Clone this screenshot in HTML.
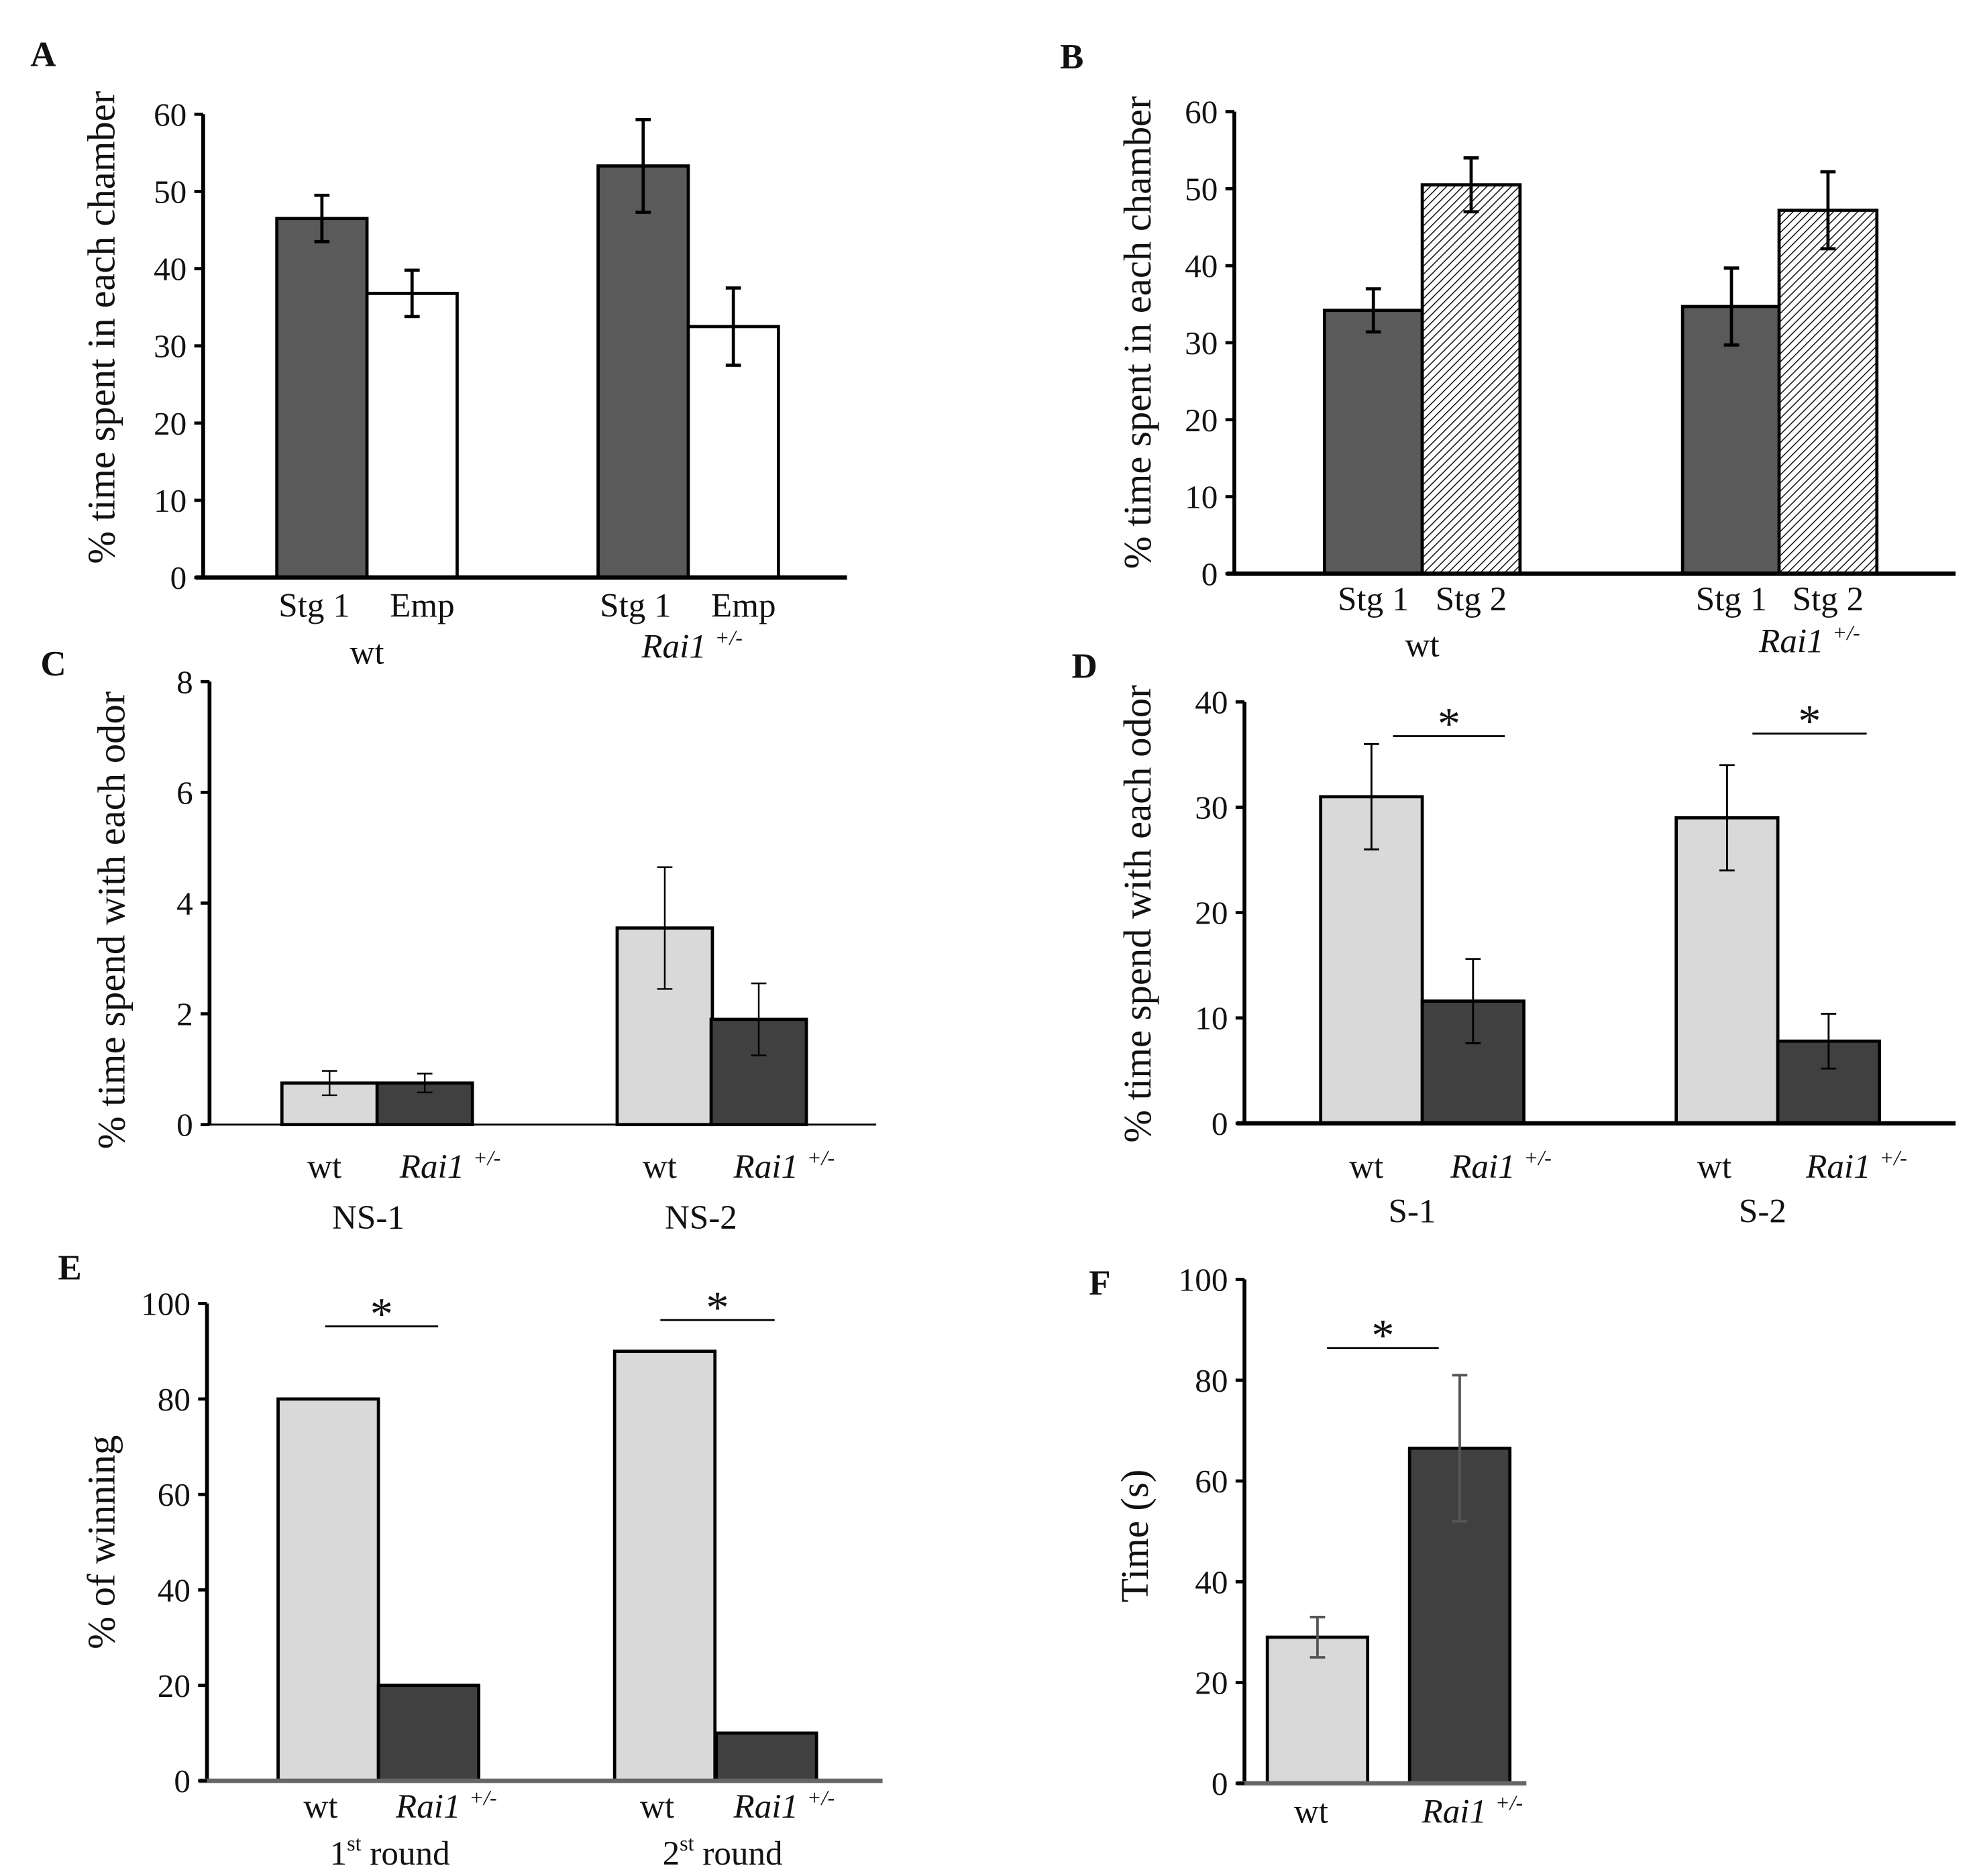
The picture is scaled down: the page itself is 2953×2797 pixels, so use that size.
<!DOCTYPE html>
<html><head><meta charset="utf-8">
<style>
html,body{margin:0;padding:0;background:#fff;}
svg{display:block;}
text{font-family:"Liberation Serif",serif;fill:#111;}
</style></head>
<body>
<svg id="fig" width="2953" height="2797" viewBox="0 0 1560 1478" preserveAspectRatio="none" xmlns="http://www.w3.org/2000/svg">
<defs>
<pattern id="hatch" patternUnits="userSpaceOnUse" width="4.5" height="4.5" patternTransform="rotate(45)">
<rect width="4.5" height="4.5" fill="#fff"/><line x1="0" y1="0" x2="0" y2="4.5" stroke="#111" stroke-width="1.6"/>
</pattern>
</defs>
</svg>
<script>
// Panel A
const aCats = ["Stg 1","Emp","Stg 1","Emp"];
const aValues = [46.5, 36.8, 53.3, 32.5];
const aErrors = [3, 3, 6, 5];
const aTicks = [0,10,20,30,40,50,60];
// Panel B
const bCats = ["Stg 1","Stg 2","Stg 1","Stg 2"];
const bValues = [34.2, 50.5, 34.7, 47.2];
const bErrors = [2.8, 3.5, 5, 5];
const bTicks = [0,10,20,30,40,50,60];
// Panel C
const cCats = ["wt","Rai1","wt","Rai1"];
const cValues = [0.75, 0.75, 3.55, 1.9];
const cErrors = [0.22, 0.17, 1.1, 0.65];
const cTicks = [0,2,4,6,8];
// Panel D
const dCats = ["wt","Rai1","wt","Rai1"];
const dValues = [31, 11.6, 29, 7.8];
const dErrors = [5, 4, 5, 2.6];
const dTicks = [0,10,20,30,40];
// Panel E
const eCats = ["wt","Rai1","wt","Rai1"];
const eValues = [80, 20, 90, 10];
const eTicks = [0,20,40,60,80,100];
// Panel F
const fCats = ["wt","Rai1"];
const fValues = [29, 66.5];
const fErrors = [4, 14.5];
const fTicks = [0,20,40,60,80,100];

const svg = document.getElementById('fig');
const NS = "http://www.w3.org/2000/svg";
function mk(tag, attrs, parent){
  const e = document.createElementNS(NS, tag);
  for (const k in attrs) e.setAttribute(k, attrs[k]);
  (parent||svg).appendChild(e);
  return e;
}
function txt(s, x, y, size, parent, anchor, italic, bold){
  const t = mk('text', {x:x, y:y, 'font-size':size, 'text-anchor':anchor||'middle'}, parent);
  if (italic) t.setAttribute('font-style','italic');
  if (bold) t.setAttribute('font-weight','bold');
  t.textContent = s;
  return t;
}
function catLabel(s, x, y, g){
  if (s === 'Rai1'){
    const t = txt('', x, y, 27, g, 'middle', true);
    const a = document.createElementNS(NS,'tspan'); a.textContent='Rai1 '; t.appendChild(a);
    const b = document.createElementNS(NS,'tspan'); b.textContent='+/-'; b.setAttribute('font-size','17'); b.setAttribute('dy','-10'); t.appendChild(b);
    return t;
  }
  return txt(s, x, y, 27, g);
}
function panel(o){
  const g = mk('g', {});
  
  
  const yMax = o.ticks[o.ticks.length-1];
  const ys = v => o.y0 - (v / yMax) * (o.y0 - o.yTop);
  o.values.forEach((v,i)=>{
    const x = o.barX[i];
    const r = mk('rect', {x:x, y:ys(v), width:o.barW, height:o.y0-ys(v), fill:o.fills[i], stroke:'#000', 'stroke-width':2.5}, g);
    
    
    if (o.errors){
      const cx = x + o.barW/2, e = o.errors[i];
      const eb = mk('path', {d:`M${cx},${ys(v+e)}V${ys(v-e)}M${cx-6},${ys(v+e)}H${cx+6}M${cx-6},${ys(v-e)}H${cx+6}`, stroke:o.errColor||'#000', 'stroke-width':o.errW||2.5, fill:'none'}, g);
      
      
    }
  });
  const ya = mk('line', {x1:o.x0, y1:o.yTop, x2:o.x0, y2:o.y0, stroke:'#000', 'stroke-width':3}, g);
  
  
  const xa = mk('line', {x1:o.x0-6, y1:o.y0, x2:o.xEnd, y2:o.y0, stroke:o.xColor||'#000', 'stroke-width':o.xW||3.5}, g);
  
  
  o.ticks.forEach(t=>{
    mk('line', {x1:o.x0-7, y1:ys(t), x2:o.x0, y2:ys(t), stroke:'#000', 'stroke-width':2.5}, g);
    const tl = txt(String(t), o.x0-13, ys(t)+9, 26, g, 'end');
    
    
  });
  o.cats.forEach((c,i)=>{
    const cl = catLabel(c, o.barX[i] + o.barW/2 + (o.catShift?o.catShift[i]:0), o.catY, g);
    
    
  });
  (o.groups||[]).forEach(gr=>{
    const gl = gr.rai ? catLabel('Rai1', gr.x, gr.y, g) : txt(gr.s, gr.x, gr.y, 27, g);
    if (gr.sup){ gl.textContent=''; const a=document.createElementNS(NS,'tspan');a.textContent=gr.s[0];gl.appendChild(a);
      const b=document.createElementNS(NS,'tspan');b.textContent='st';b.setAttribute('font-size','17');b.setAttribute('dy','-11');gl.appendChild(b);
      const c=document.createElementNS(NS,'tspan');c.textContent=' round';c.setAttribute('dy','11');gl.appendChild(c);}
    
    
  });
  (o.sig||[]).forEach(s=>{
    const sl = mk('line', {x1:s.x1, y1:s.y, x2:s.x2, y2:s.y, stroke:'#000', 'stroke-width':1.5}, g);
    
    
    const st = txt('*', (s.x1+s.x2)/2, s.y+2, 36, g);
    
    
  });
  const yt = txt(o.ytitle, 0, 0, 31, g);
  yt.setAttribute('transform', `translate(${o.ytX},${o.ytY}) rotate(-90)`);
  
  
  const lt = txt(o.id.toUpperCase(), o.letX, o.letY, 28, g, 'middle', false, true);
  
  
}
const DK='#5a5a5a', LG='#d9d9d9', DG='#404040';
panel({id:'a', name:'panel-a-chart', cats:aCats, values:aValues, errors:aErrors, ticks:aTicks,
  x0:160, y0:455, yTop:90, xEnd:667, barX:[218,289,471,542], barW:71, fills:[DK,'#fff',DK,'#fff'],
  catY:486, catShift:[-6,8,-6,8], groups:[{s:'wt',x:289,y:523},{rai:true,x:545,y:518}],
  ytitle:'% time spent in each chamber', ytX:90, ytY:258, letX:34, letY:52});
panel({id:'b', name:'panel-b-chart', cats:bCats, values:bValues, errors:bErrors, ticks:bTicks,
  x0:972, y0:452, yTop:88, xEnd:1540, barX:[1043,1120,1325,1401], barW:77, fills:[DK,'url(#hatch)',DK,'url(#hatch)'],
  catY:481, groups:[{s:'wt',x:1120,y:517},{rai:true,x:1425,y:514}],
  ytitle:'% time spent in each chamber', ytX:906, ytY:262, letX:844, letY:54});
panel({id:'c', name:'panel-c-chart', cats:cCats, values:cValues, errors:cErrors, ticks:cTicks,
  x0:165, y0:886, yTop:537, xEnd:690, xW:1.5, errW:1.3, barX:[222,297,486,560], barW:75, fills:[LG,DG,LG,DG],
  catY:928, catShift:[-4,20,-4,20], groups:[{s:'NS-1',x:290,y:968},{s:'NS-2',x:552,y:968}],
  ytitle:'% time spend with each odor', ytX:98, ytY:725, letX:42, letY:532});
panel({id:'d', name:'panel-d-chart', cats:dCats, values:dValues, errors:dErrors, ticks:dTicks,
  x0:980, y0:885, yTop:553, xEnd:1540, errW:1.5, barX:[1040,1120,1320,1400], barW:80, fills:[LG,DG,LG,DG],
  catY:928, catShift:[-4,22,-10,22], groups:[{s:'S-1',x:1112,y:963},{s:'S-2',x:1388,y:963}],
  sig:[{x1:1097,x2:1185,y:580},{x1:1380,x2:1470,y:578}],
  ytitle:'% time spend with each odor', ytX:906, ytY:720, letX:854, letY:534});
panel({id:'e', name:'panel-e-chart', cats:eCats, values:eValues, ticks:eTicks,
  x0:163, y0:1403, yTop:1027, xEnd:695, xColor:'#666', barX:[219,298,484,564], barW:79, fills:[LG,DG,LG,DG],
  catY:1432, catShift:[-6,14,-6,14], groups:[{s:'1st round',sup:true,x:307,y:1469},{s:'2st round',sup:true,x:569,y:1469}],
  sig:[{x1:256,x2:345,y:1045},{x1:520,x2:610,y:1040}],
  ytitle:'% of winning', ytX:90, ytY:1215, letX:55, letY:1008});
panel({id:'f', name:'panel-f-chart', cats:fCats, values:fValues, errors:fErrors, ticks:fTicks,
  x0:980, y0:1405, yTop:1008, xEnd:1202, xColor:'#666', errColor:'#555', errW:2, barX:[998,1110], barW:79, fills:[LG,DG],
  catY:1436, catShift:[-5,10], sig:[{x1:1045,x2:1133,y:1062}],
  ytitle:'Time (s)', ytX:904, ytY:1210, letX:866, letY:1020});
</script>
</body></html>
